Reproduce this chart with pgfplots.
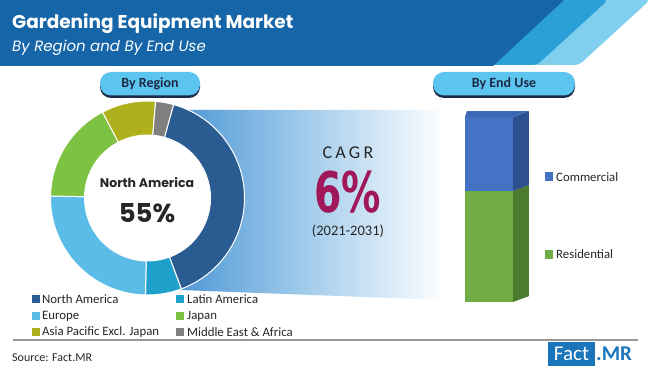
\documentclass[border=0pt]{standalone}
\usepackage{pgfplots}
\pgfplotsset{compat=1.18}
\usepackage{pgfplotstable}
\usetikzlibrary{calc}
\usepackage{fontspec}
\setmainfont{Carlito}
\newfontfamily\poppins{Poppins}
\newfontfamily\condfont{DejaVu Sans Condensed}

\definecolor{hdark}{HTML}{1565A8}
\definecolor{hmid}{HTML}{2B9FD8}
\definecolor{hlight}{HTML}{80CFEE}
\definecolor{c0}{HTML}{2A5C92}
\definecolor{c1}{HTML}{1FA0CA}
\definecolor{c2}{HTML}{5BBCE8}
\definecolor{c3}{HTML}{7DC242}
\definecolor{c4}{HTML}{AEB01C}
\definecolor{c5}{HTML}{7F7F7F}
\definecolor{bandblue}{HTML}{3A8BCF}
\definecolor{bandmid}{HTML}{9CC8EA}
\definecolor{pill}{HTML}{5BC5F0}
\definecolor{pillshadow}{HTML}{1B2A48}
\definecolor{pilltext}{HTML}{1E2A44}
\definecolor{cagr}{HTML}{A0185A}
\definecolor{comblue}{HTML}{4472C4}
\definecolor{comside}{HTML}{2E5090}
\definecolor{comtop}{HTML}{3D67B8}
\definecolor{resgreen}{HTML}{70AD47}
\definecolor{resside}{HTML}{4B7B2D}
\definecolor{txt}{HTML}{262626}
\definecolor{logo}{HTML}{1A75BB}

\pgfplotstableread{
region value
NA 40
LA 6
EU 25
JP 17
APEJ 9
MEA 3
}\regiondata

\pgfplotstableread{
x residential commercial
0.5 60 40
}\enduse

\pgfplotsset{bargeo/.style={at={(465pt,72pt)},anchor=south west,width=48pt,height=185pt,
  scale only axis,xmin=0,xmax=1,ymin=0,ymax=100,hide axis,clip=false}}

\begin{document}
\begin{tikzpicture}
\useasboundingbox (0,0) rectangle (650pt,374pt);
\fill[white] (0,0) rectangle (650pt,374pt);
\begin{axis}[at={(0,0)},anchor=south west,width=650pt,height=374pt,scale only axis,
  xmin=0,xmax=650,ymin=0,ymax=374,y dir=reverse,hide axis,clip=false]
% header
\fill[hlight,rounded corners=4pt] (axis cs:0,0) -- (axis cs:650,0) -- (axis cs:579,65) -- (axis cs:0,65) -- cycle;
\fill[hmid,rounded corners=4pt] (axis cs:0,0) -- (axis cs:608,0) -- (axis cs:537,65) -- (axis cs:0,65) -- cycle;
\fill[hdark] (axis cs:0,0) -- (axis cs:564,0) -- (axis cs:493,66) -- (axis cs:0,66) -- cycle;
\node[anchor=base west,text=white,font=\poppins\bfseries\fontsize{18.5}{21}\selectfont,inner sep=0pt] at (axis cs:12,29) {Gardening Equipment Market};
\node[anchor=base west,text=white,font=\poppins\itshape\fontsize{15}{17}\selectfont,inner sep=0pt] at (axis cs:12,52) {By Region and By End Use};
% pills
\fill[pillshadow,rounded corners=11pt] (axis cs:100,74) rectangle (axis cs:200,98);
\fill[pill,rounded corners=11pt] (axis cs:100,72) rectangle (axis cs:200,95.5);
\node[font=\bfseries\fontsize{14}{16}\selectfont,text=pilltext] at (axis cs:150,84) {By Region};
\fill[pillshadow,rounded corners=11pt] (axis cs:433,74) rectangle (axis cs:575,98);
\fill[pill,rounded corners=11pt] (axis cs:433,72) rectangle (axis cs:575,95.5);
\node[font=\bfseries\fontsize{14}{16}\selectfont,text=pilltext] at (axis cs:504,84) {By End Use};
% gradient band
\shade[left color=bandblue,right color=white,middle color=bandmid] (axis cs:147,110) -- (axis cs:445,110) -- (axis cs:445,300) -- (axis cs:180,290) -- (axis cs:147,290) -- cycle;
\fill[white] (axis cs:147.5,198) circle[radius=97pt];
% donut
\def\cum{15.6}
\pgfplotsforeachungrouped \i in {0,...,5}{%
  \pgfplotstablegetelem{\i}{value}\of\regiondata
  \pgfmathsetmacro\aone{90-\cum}%
  \pgfmathsetmacro\cumnew{\cum+3.6*\pgfplotsretval}%
  \pgfmathsetmacro\atwo{90-\cumnew}%
  \edef\temp{\noexpand\fill[c\i,draw=white,line width=1pt] ($(axis cs:147.5,198)+(\aone:97pt)$) arc[start angle=\aone,end angle=\atwo,radius=97pt] -- ($(axis cs:147.5,198)+(\atwo:63pt)$) arc[start angle=\atwo,end angle=\aone,radius=63pt] -- cycle;}%
  \temp
  \global\let\cum\cumnew
}
\node[font=\poppins\bfseries\fontsize{12.5}{14}\selectfont,text=txt] at (axis cs:147,183) {North America};
\node[font=\poppins\bfseries\fontsize{26}{28}\selectfont,text=txt] at (axis cs:147,213) {55\%};
% legend donut
\fill[c0] (axis cs:32,295) rectangle (axis cs:40,303);
\node[anchor=west,inner sep=0pt,font=\fontsize{12.8}{14}\selectfont,text=txt] at (axis cs:42,299) {North America};
\fill[c1] (axis cs:176,295) rectangle (axis cs:184,303);
\node[anchor=west,inner sep=0pt,font=\fontsize{12.8}{14}\selectfont,text=txt] at (axis cs:187,299) {Latin America};
\fill[c2] (axis cs:32,312) rectangle (axis cs:40,320);
\node[anchor=west,inner sep=0pt,font=\fontsize{12.8}{14}\selectfont,text=txt] at (axis cs:42,316) {Europe};
\fill[c3] (axis cs:176,312) rectangle (axis cs:184,320);
\node[anchor=west,inner sep=0pt,font=\fontsize{12.8}{14}\selectfont,text=txt] at (axis cs:187,316) {Japan};
\fill[c4] (axis cs:32,328) rectangle (axis cs:40,336);
\node[anchor=west,inner sep=0pt,font=\fontsize{12.8}{14}\selectfont,text=txt] at (axis cs:42,332) {Asia Pacific Excl. Japan};
\fill[c5] (axis cs:176,328) rectangle (axis cs:184,336);
\node[anchor=west,inner sep=0pt,font=\fontsize{12.8}{14}\selectfont,text=txt] at (axis cs:187,332) {Middle East \& Africa};
% CAGR
\node[font=\addfontfeature{LetterSpace=18}\fontsize{18}{20}\selectfont,text=txt,inner sep=0pt] at (axis cs:348,153) {CAGR};
\node[font=\condfont\bfseries\fontsize{56}{58}\selectfont,text=cagr,xscale=0.78,inner sep=0pt] at (axis cs:348,192) {6\%};
\node[font=\fontsize{14.5}{16}\selectfont,text=txt,inner sep=0pt] at (axis cs:348,231) {(2021-2031)};
% bar legend
\fill[comblue] (axis cs:545,172.5) rectangle (axis cs:553,181);
\node[anchor=west,inner sep=0pt,font=\fontsize{12.8}{14}\selectfont,text=txt] at (axis cs:556,177) {Commercial};
\fill[resgreen] (axis cs:545,250) rectangle (axis cs:553,258.5);
\node[anchor=west,inner sep=0pt,font=\fontsize{12.8}{14}\selectfont,text=txt] at (axis cs:556,254) {Residential};
% footer
\draw[gray!80,line width=1.1pt] (axis cs:13,340) -- (axis cs:638,340);
\node[anchor=west,inner sep=0pt,font=\fontsize{12}{14}\selectfont,text=txt] at (axis cs:12,358) {Source: Fact.MR};
\fill[logo] (axis cs:548,342) rectangle (axis cs:595,366);
\node[font=\fontsize{21}{22}\selectfont,text=white,inner sep=0pt] at (axis cs:571.5,354) {Fact};
\node[anchor=west,font=\bfseries\fontsize{21}{22}\selectfont,text=logo,inner sep=0pt] at (axis cs:596,354) {.MR};
\end{axis}
% 3D faces
\begin{axis}[bargeo]
\addplot[fill=resside,draw=none] coordinates {(1,0) (1.333,3.2) (1.333,63.2) (1,60)} -- cycle;
\addplot[fill=comside,draw=none] coordinates {(1,60) (1.333,63.2) (1.333,103.2) (1,100)} -- cycle;
\addplot[fill=comtop,draw=none] coordinates {(0,100) (1,100) (1.333,103.2) (0.04,103.2)} -- cycle;
\end{axis}
\begin{axis}[bargeo,ybar stacked,bar width=48pt]
\addplot[fill=resgreen,draw=none] table[x=x,y=residential]{\enduse};
\addplot[fill=comblue,draw=none] table[x=x,y=commercial]{\enduse};
\end{axis}
\end{tikzpicture}
\end{document}
